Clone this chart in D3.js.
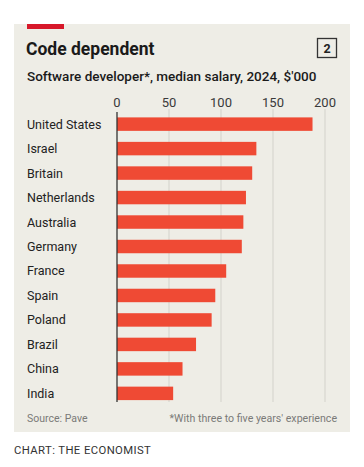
<!DOCTYPE html>
<html><head><meta charset="utf-8">
<script src="https://cdn.jsdelivr.net/npm/d3@7"></script>
<style>body{margin:0;background:#fff}svg{display:block}</style>
</head><body>
<script>
const categories = ["United States","Israel","Britain","Netherlands","Australia","Germany","France","Spain","Poland","Brazil","China","India"];
const salaries = [188,134,130,124,121.5,120,105,94.5,91,76,63,54];
const ticks = [0,50,100,150,200];

const W=364,H=467;
const svg=d3.select("body").append("svg").attr("width",W).attr("height",H);
const font="Roboto, 'Open Sans', sans-serif";
svg.append("rect").attr("x",14).attr("y",24).attr("width",336).attr("height",408).attr("fill","#eeede6");
svg.append("rect").attr("x",27).attr("y",24).attr("width",37).attr("height",5).attr("fill","#d7182a");
svg.append("text").attr("x",26).attr("y",55).attr("font-family",font).attr("font-weight",700).attr("font-size",17.5).attr("fill","#1a1a1a").text("Code dependent");
svg.append("rect").attr("x",317.5).attr("y",38.5).attr("width",19).attr("height",19).attr("fill","none").attr("stroke","#333").attr("stroke-width",1.3);
svg.append("text").attr("x",327).attr("y",53).attr("text-anchor","middle").attr("font-family",font).attr("font-weight",700).attr("font-size",12.5).attr("fill","#222").text("2");
svg.append("text").attr("x",27).attr("y",81).attr("font-family",font).attr("font-weight",500).attr("font-size",13.5).attr("fill","#1a1a1a").text("Software developer*, median salary, 2024, $'000");

const x=d3.scaleLinear().domain([0,200]).range([117,325]);
const y=d3.scaleBand().domain(categories).range([112.5,405]).paddingInner(0.45).paddingOuter(0.2);

svg.append("g").selectAll("line").data(ticks.slice(1)).join("line")
 .attr("x1",d=>x(d)).attr("x2",d=>x(d)).attr("y1",109).attr("y2",402)
 .attr("stroke","#d3d2cb").attr("stroke-width",1);
svg.append("g").selectAll("text").data(ticks).join("text")
 .attr("x",d=>x(d)).attr("y",107).attr("text-anchor","middle")
 .attr("font-family",font).attr("font-size",13).attr("fill","#3a3a3a").text(d=>d);

svg.append("g").selectAll("rect").data(categories).join("rect")
 .attr("x",x(0)).attr("y",d=>y(d)).attr("width",(d,i)=>x(salaries[i])-x(0)).attr("height",y.bandwidth())
 .attr("fill","#ef4a34");
svg.append("line").attr("x1",x(0)).attr("x2",x(0)).attr("y1",112).attr("y2",402).attr("stroke","#333").attr("stroke-width",1.3);

svg.append("g").selectAll("text").data(categories).join("text")
 .attr("x",27).attr("y",d=>y(d)+y.bandwidth()/2+4.5)
 .attr("font-family",font).attr("font-size",12.5).attr("fill","#222").text(d=>d);

svg.append("text").attr("x",27).attr("y",422).attr("font-family",font).attr("font-size",10.5).attr("fill","#7a7a78").text("Source: Pave");
svg.append("text").attr("x",337).attr("y",422).attr("text-anchor","end").attr("font-family",font).attr("font-size",10.6).attr("fill","#7a7a78").text("*With three to five years' experience");
svg.append("text").attr("x",14).attr("y",454).attr("font-family",font).attr("font-size",11.3).attr("fill","#333").attr("letter-spacing",0.4).text("CHART: THE ECONOMIST");
</script>
</body></html>
